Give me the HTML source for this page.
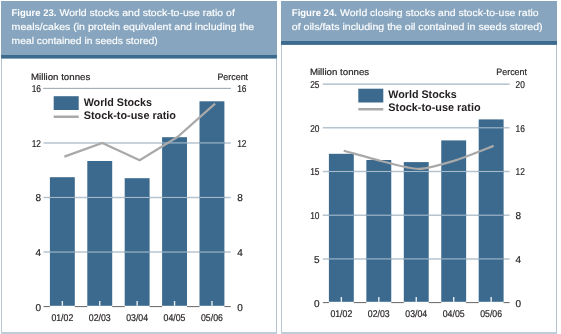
<!DOCTYPE html>
<html><head><meta charset="utf-8"><style>
html,body{margin:0;padding:0;background:#fff;overflow:hidden;}
svg{display:block;font-family:"Liberation Sans", sans-serif;will-change:transform;text-rendering:geometricPrecision;}
</style></head><body>
<svg width="561" height="334" viewBox="0 0 561 334">
<rect x="1" y="1" width="276" height="53.6" fill="#87a5be"/>
<rect x="1" y="54.6" width="276" height="4.0" fill="#3c6b8f"/>
<rect x="1" y="58.7" width="1" height="274.30" fill="#b4c4d2"/>
<rect x="276" y="58.7" width="1" height="274.30" fill="#b4c4d2"/>
<rect x="1" y="332" width="276" height="2" fill="#bfccd8"/>
<text x="11.6" y="15.8" font-size="9.8" font-weight="bold" fill="#fff" textLength="44.70" lengthAdjust="spacingAndGlyphs">Figure 23.</text>
<text x="59.5" y="15.8" font-size="9.8" fill="#fff" stroke="#fff" stroke-width="0.15" textLength="175.30" lengthAdjust="spacingAndGlyphs">World stocks and stock-to-use ratio of</text>
<text x="11.6" y="29.8" font-size="9.8" fill="#fff" stroke="#fff" stroke-width="0.15" textLength="242.6" lengthAdjust="spacingAndGlyphs">meals/cakes (in protein equivalent and including the</text>
<text x="11.6" y="43.8" font-size="9.8" fill="#fff" stroke="#fff" stroke-width="0.15" textLength="146.2" lengthAdjust="spacingAndGlyphs">meal contained in seeds stored)</text>
<rect x="281" y="1" width="276" height="39.9" fill="#87a5be"/>
<rect x="281" y="40.9" width="276" height="4.0" fill="#3c6b8f"/>
<rect x="281" y="45.0" width="1" height="288.00" fill="#b4c4d2"/>
<rect x="556" y="45.0" width="1" height="288.00" fill="#b4c4d2"/>
<rect x="281" y="332" width="276" height="2" fill="#bfccd8"/>
<text x="291.8" y="15.8" font-size="9.8" font-weight="bold" fill="#fff" textLength="45.10" lengthAdjust="spacingAndGlyphs">Figure 24.</text>
<text x="340.1" y="15.8" font-size="9.8" fill="#fff" stroke="#fff" stroke-width="0.15" textLength="198.60" lengthAdjust="spacingAndGlyphs">World closing stocks and stock-to-use ratio</text>
<text x="291.8" y="29.8" font-size="9.8" fill="#fff" stroke="#fff" stroke-width="0.15" textLength="250.8" lengthAdjust="spacingAndGlyphs">of oils/fats including the oil contained in seeds stored)</text>
<line x1="43.5" y1="88.36" x2="230.7" y2="88.36" stroke="#c9d3db" stroke-width="1"/>
<line x1="43.5" y1="88.36" x2="230.7" y2="88.36" stroke="#77838e" stroke-width="1" stroke-dasharray="1.1 0.9"/>
<line x1="43.5" y1="142.92" x2="230.7" y2="142.92" stroke="#b6c4cf" stroke-width="1.5"/>
<line x1="43.5" y1="197.48" x2="230.7" y2="197.48" stroke="#b6c4cf" stroke-width="1.5"/>
<line x1="43.5" y1="252.04" x2="230.7" y2="252.04" stroke="#b6c4cf" stroke-width="1.5"/>
<rect x="49.90" y="177.20" width="24.9" height="128.60" fill="#3b6a8e"/>
<rect x="61.65" y="301.00" width="1.4" height="4.8" fill="#e8eef3"/>
<rect x="87.30" y="161.00" width="24.9" height="144.80" fill="#3b6a8e"/>
<rect x="99.05" y="301.00" width="1.4" height="4.8" fill="#e8eef3"/>
<rect x="124.70" y="178.20" width="24.9" height="127.60" fill="#3b6a8e"/>
<rect x="136.45" y="301.00" width="1.4" height="4.8" fill="#e8eef3"/>
<rect x="162.10" y="137.20" width="24.9" height="168.60" fill="#3b6a8e"/>
<rect x="173.85" y="301.00" width="1.4" height="4.8" fill="#e8eef3"/>
<rect x="199.50" y="101.30" width="24.9" height="204.50" fill="#3b6a8e"/>
<rect x="211.25" y="301.00" width="1.4" height="4.8" fill="#e8eef3"/>
<line x1="162.10" y1="142.92" x2="187.00" y2="142.92" stroke="#a6bacb" stroke-width="1.1"/>
<line x1="199.50" y1="142.92" x2="224.40" y2="142.92" stroke="#a6bacb" stroke-width="1.1"/>
<line x1="49.90" y1="197.48" x2="74.80" y2="197.48" stroke="#a6bacb" stroke-width="1.1"/>
<line x1="87.30" y1="197.48" x2="112.20" y2="197.48" stroke="#a6bacb" stroke-width="1.1"/>
<line x1="124.70" y1="197.48" x2="149.60" y2="197.48" stroke="#a6bacb" stroke-width="1.1"/>
<line x1="162.10" y1="197.48" x2="187.00" y2="197.48" stroke="#a6bacb" stroke-width="1.1"/>
<line x1="199.50" y1="197.48" x2="224.40" y2="197.48" stroke="#a6bacb" stroke-width="1.1"/>
<line x1="49.90" y1="252.04" x2="74.80" y2="252.04" stroke="#a6bacb" stroke-width="1.1"/>
<line x1="87.30" y1="252.04" x2="112.20" y2="252.04" stroke="#a6bacb" stroke-width="1.1"/>
<line x1="124.70" y1="252.04" x2="149.60" y2="252.04" stroke="#a6bacb" stroke-width="1.1"/>
<line x1="162.10" y1="252.04" x2="187.00" y2="252.04" stroke="#a6bacb" stroke-width="1.1"/>
<line x1="199.50" y1="252.04" x2="224.40" y2="252.04" stroke="#a6bacb" stroke-width="1.1"/>
<line x1="43.50" y1="306.60" x2="49.90" y2="306.60" stroke="#666" stroke-width="1"/>
<line x1="74.80" y1="306.60" x2="87.30" y2="306.60" stroke="#666" stroke-width="1"/>
<line x1="112.20" y1="306.60" x2="124.70" y2="306.60" stroke="#666" stroke-width="1"/>
<line x1="149.60" y1="306.60" x2="162.10" y2="306.60" stroke="#666" stroke-width="1"/>
<line x1="187.00" y1="306.60" x2="199.50" y2="306.60" stroke="#666" stroke-width="1"/>
<line x1="224.40" y1="306.60" x2="230.70" y2="306.60" stroke="#666" stroke-width="1"/>
<text x="41" y="92.26" font-size="10" text-anchor="end" textLength="9.3" lengthAdjust="spacingAndGlyphs" fill="#231f20" stroke="#231f20" stroke-width="0.2">16</text>
<text x="237.2" y="92.26" font-size="10" textLength="9.3" lengthAdjust="spacingAndGlyphs" fill="#231f20" stroke="#231f20" stroke-width="0.2">16</text>
<text x="41" y="146.82" font-size="10" text-anchor="end" textLength="9.3" lengthAdjust="spacingAndGlyphs" fill="#231f20" stroke="#231f20" stroke-width="0.2">12</text>
<text x="237.2" y="146.82" font-size="10" textLength="9.3" lengthAdjust="spacingAndGlyphs" fill="#231f20" stroke="#231f20" stroke-width="0.2">12</text>
<text x="41" y="201.38" font-size="10" text-anchor="end" fill="#231f20" stroke="#231f20" stroke-width="0.2">8</text>
<text x="237.2" y="201.38" font-size="10" fill="#231f20" stroke="#231f20" stroke-width="0.2">8</text>
<text x="41" y="255.94" font-size="10" text-anchor="end" fill="#231f20" stroke="#231f20" stroke-width="0.2">4</text>
<text x="237.2" y="255.94" font-size="10" fill="#231f20" stroke="#231f20" stroke-width="0.2">4</text>
<text x="41" y="310.50" font-size="10" text-anchor="end" fill="#231f20" stroke="#231f20" stroke-width="0.2">0</text>
<text x="237.2" y="310.50" font-size="10" fill="#231f20" stroke="#231f20" stroke-width="0.2">0</text>
<text x="31" y="79.6" font-size="9.2" textLength="59.3" lengthAdjust="spacingAndGlyphs" fill="#231f20" stroke="#231f20" stroke-width="0.2">Million tonnes</text>
<text x="217.4" y="79.6" font-size="9.2" textLength="30.7" lengthAdjust="spacingAndGlyphs" fill="#231f20" stroke="#231f20" stroke-width="0.2">Percent</text>
<text x="62.35" y="320.9" font-size="9.8" text-anchor="middle" textLength="21.9" lengthAdjust="spacingAndGlyphs" fill="#231f20" stroke="#231f20" stroke-width="0.2">01/02</text>
<text x="99.75" y="320.9" font-size="9.8" text-anchor="middle" textLength="21.9" lengthAdjust="spacingAndGlyphs" fill="#231f20" stroke="#231f20" stroke-width="0.2">02/03</text>
<text x="137.15" y="320.9" font-size="9.8" text-anchor="middle" textLength="21.9" lengthAdjust="spacingAndGlyphs" fill="#231f20" stroke="#231f20" stroke-width="0.2">03/04</text>
<text x="174.55" y="320.9" font-size="9.8" text-anchor="middle" textLength="21.9" lengthAdjust="spacingAndGlyphs" fill="#231f20" stroke="#231f20" stroke-width="0.2">04/05</text>
<text x="211.95" y="320.9" font-size="9.8" text-anchor="middle" textLength="21.9" lengthAdjust="spacingAndGlyphs" fill="#231f20" stroke="#231f20" stroke-width="0.2">05/06</text>
<rect x="53.7" y="96.2" width="25" height="13.8" fill="#3b6a8e"/>
<rect x="53.7" y="115.5" width="25" height="2.5" fill="#a9a9a9"/>
<text x="83.7" y="105.7" font-size="11" font-weight="bold" textLength="68.3" lengthAdjust="spacingAndGlyphs" fill="#231f20">World Stocks</text>
<text x="83.7" y="118.80000000000001" font-size="11" font-weight="bold" textLength="92.3" lengthAdjust="spacingAndGlyphs" fill="#231f20">Stock-to-use ratio</text>
<path d="M64.4,156.6 L102.3,143.0 L139.7,160.2 L177.4,137.0 L215.1,103.6" fill="none" stroke="#a9a9a9" stroke-width="2.2" stroke-linejoin="miter"/>
<line x1="322.8" y1="84.10" x2="509.6" y2="84.10" stroke="#a4b5c3" stroke-width="1.1"/>
<line x1="322.8" y1="127.80" x2="509.6" y2="127.80" stroke="#b6c4cf" stroke-width="1.5"/>
<line x1="322.8" y1="171.50" x2="509.6" y2="171.50" stroke="#b6c4cf" stroke-width="1.5"/>
<line x1="322.8" y1="215.20" x2="509.6" y2="215.20" stroke="#b6c4cf" stroke-width="1.5"/>
<line x1="322.8" y1="258.90" x2="509.6" y2="258.90" stroke="#b6c4cf" stroke-width="1.5"/>
<rect x="328.90" y="153.80" width="24.9" height="148.00" fill="#3b6a8e"/>
<rect x="340.65" y="297.00" width="1.4" height="4.8" fill="#e8eef3"/>
<rect x="366.35" y="160.00" width="24.9" height="141.80" fill="#3b6a8e"/>
<rect x="378.10" y="297.00" width="1.4" height="4.8" fill="#e8eef3"/>
<rect x="403.80" y="162.10" width="24.9" height="139.70" fill="#3b6a8e"/>
<rect x="415.55" y="297.00" width="1.4" height="4.8" fill="#e8eef3"/>
<rect x="441.25" y="140.40" width="24.9" height="161.40" fill="#3b6a8e"/>
<rect x="453.00" y="297.00" width="1.4" height="4.8" fill="#e8eef3"/>
<rect x="478.70" y="119.40" width="24.9" height="182.40" fill="#3b6a8e"/>
<rect x="490.45" y="297.00" width="1.4" height="4.8" fill="#e8eef3"/>
<line x1="478.70" y1="127.80" x2="503.60" y2="127.80" stroke="#a6bacb" stroke-width="1.1"/>
<line x1="328.90" y1="171.50" x2="353.80" y2="171.50" stroke="#a6bacb" stroke-width="1.1"/>
<line x1="366.35" y1="171.50" x2="391.25" y2="171.50" stroke="#a6bacb" stroke-width="1.1"/>
<line x1="403.80" y1="171.50" x2="428.70" y2="171.50" stroke="#a6bacb" stroke-width="1.1"/>
<line x1="441.25" y1="171.50" x2="466.15" y2="171.50" stroke="#a6bacb" stroke-width="1.1"/>
<line x1="478.70" y1="171.50" x2="503.60" y2="171.50" stroke="#a6bacb" stroke-width="1.1"/>
<line x1="328.90" y1="215.20" x2="353.80" y2="215.20" stroke="#a6bacb" stroke-width="1.1"/>
<line x1="366.35" y1="215.20" x2="391.25" y2="215.20" stroke="#a6bacb" stroke-width="1.1"/>
<line x1="403.80" y1="215.20" x2="428.70" y2="215.20" stroke="#a6bacb" stroke-width="1.1"/>
<line x1="441.25" y1="215.20" x2="466.15" y2="215.20" stroke="#a6bacb" stroke-width="1.1"/>
<line x1="478.70" y1="215.20" x2="503.60" y2="215.20" stroke="#a6bacb" stroke-width="1.1"/>
<line x1="328.90" y1="258.90" x2="353.80" y2="258.90" stroke="#a6bacb" stroke-width="1.1"/>
<line x1="366.35" y1="258.90" x2="391.25" y2="258.90" stroke="#a6bacb" stroke-width="1.1"/>
<line x1="403.80" y1="258.90" x2="428.70" y2="258.90" stroke="#a6bacb" stroke-width="1.1"/>
<line x1="441.25" y1="258.90" x2="466.15" y2="258.90" stroke="#a6bacb" stroke-width="1.1"/>
<line x1="478.70" y1="258.90" x2="503.60" y2="258.90" stroke="#a6bacb" stroke-width="1.1"/>
<line x1="322.80" y1="302.60" x2="328.90" y2="302.60" stroke="#666" stroke-width="1"/>
<line x1="353.80" y1="302.60" x2="366.35" y2="302.60" stroke="#666" stroke-width="1"/>
<line x1="391.25" y1="302.60" x2="403.80" y2="302.60" stroke="#666" stroke-width="1"/>
<line x1="428.70" y1="302.60" x2="441.25" y2="302.60" stroke="#666" stroke-width="1"/>
<line x1="466.15" y1="302.60" x2="478.70" y2="302.60" stroke="#666" stroke-width="1"/>
<line x1="503.60" y1="302.60" x2="509.60" y2="302.60" stroke="#666" stroke-width="1"/>
<text x="319.5" y="88.00" font-size="10" text-anchor="end" textLength="9.3" lengthAdjust="spacingAndGlyphs" fill="#231f20" stroke="#231f20" stroke-width="0.2">25</text>
<text x="515.5" y="88.00" font-size="10" textLength="9.3" lengthAdjust="spacingAndGlyphs" fill="#231f20" stroke="#231f20" stroke-width="0.2">20</text>
<text x="319.5" y="131.70" font-size="10" text-anchor="end" textLength="9.3" lengthAdjust="spacingAndGlyphs" fill="#231f20" stroke="#231f20" stroke-width="0.2">20</text>
<text x="515.5" y="131.70" font-size="10" textLength="9.3" lengthAdjust="spacingAndGlyphs" fill="#231f20" stroke="#231f20" stroke-width="0.2">16</text>
<text x="319.5" y="175.40" font-size="10" text-anchor="end" textLength="9.3" lengthAdjust="spacingAndGlyphs" fill="#231f20" stroke="#231f20" stroke-width="0.2">15</text>
<text x="515.5" y="175.40" font-size="10" textLength="9.3" lengthAdjust="spacingAndGlyphs" fill="#231f20" stroke="#231f20" stroke-width="0.2">12</text>
<text x="319.5" y="219.10" font-size="10" text-anchor="end" textLength="9.3" lengthAdjust="spacingAndGlyphs" fill="#231f20" stroke="#231f20" stroke-width="0.2">10</text>
<text x="515.5" y="219.10" font-size="10" fill="#231f20" stroke="#231f20" stroke-width="0.2">8</text>
<text x="319.5" y="262.80" font-size="10" text-anchor="end" fill="#231f20" stroke="#231f20" stroke-width="0.2">5</text>
<text x="515.5" y="262.80" font-size="10" fill="#231f20" stroke="#231f20" stroke-width="0.2">4</text>
<text x="319.5" y="306.50" font-size="10" text-anchor="end" fill="#231f20" stroke="#231f20" stroke-width="0.2">0</text>
<text x="515.5" y="306.50" font-size="10" fill="#231f20" stroke="#231f20" stroke-width="0.2">0</text>
<text x="309.9" y="75.2" font-size="9.2" textLength="59.3" lengthAdjust="spacingAndGlyphs" fill="#231f20" stroke="#231f20" stroke-width="0.2">Million tonnes</text>
<text x="496.3" y="75.2" font-size="9.2" textLength="30.7" lengthAdjust="spacingAndGlyphs" fill="#231f20" stroke="#231f20" stroke-width="0.2">Percent</text>
<text x="341.35" y="316.5" font-size="9.8" text-anchor="middle" textLength="21.9" lengthAdjust="spacingAndGlyphs" fill="#231f20" stroke="#231f20" stroke-width="0.2">01/02</text>
<text x="378.80" y="316.5" font-size="9.8" text-anchor="middle" textLength="21.9" lengthAdjust="spacingAndGlyphs" fill="#231f20" stroke="#231f20" stroke-width="0.2">02/03</text>
<text x="416.25" y="316.5" font-size="9.8" text-anchor="middle" textLength="21.9" lengthAdjust="spacingAndGlyphs" fill="#231f20" stroke="#231f20" stroke-width="0.2">03/04</text>
<text x="453.70" y="316.5" font-size="9.8" text-anchor="middle" textLength="21.9" lengthAdjust="spacingAndGlyphs" fill="#231f20" stroke="#231f20" stroke-width="0.2">04/05</text>
<text x="491.15" y="316.5" font-size="9.8" text-anchor="middle" textLength="21.9" lengthAdjust="spacingAndGlyphs" fill="#231f20" stroke="#231f20" stroke-width="0.2">05/06</text>
<rect x="358.3" y="88.7" width="25" height="13.8" fill="#3b6a8e"/>
<rect x="358.3" y="108.0" width="25" height="2.5" fill="#a9a9a9"/>
<text x="388.3" y="98.2" font-size="11" font-weight="bold" textLength="68.3" lengthAdjust="spacingAndGlyphs" fill="#231f20">World Stocks</text>
<text x="388.3" y="111.30000000000001" font-size="11" font-weight="bold" textLength="92.3" lengthAdjust="spacingAndGlyphs" fill="#231f20">Stock-to-use ratio</text>
<path d="M343.7,150.7 C348.2,151.9 372.2,158.8 381.2,161.0 C390.2,163.2 409.7,169.0 418.7,168.9 C427.7,168.8 447.2,162.9 456.2,160.1 C465.2,157.3 489.2,147.6 493.7,145.9" fill="none" stroke="#a9a9a9" stroke-width="2.2" stroke-linejoin="miter"/>
</svg>
</body></html>
